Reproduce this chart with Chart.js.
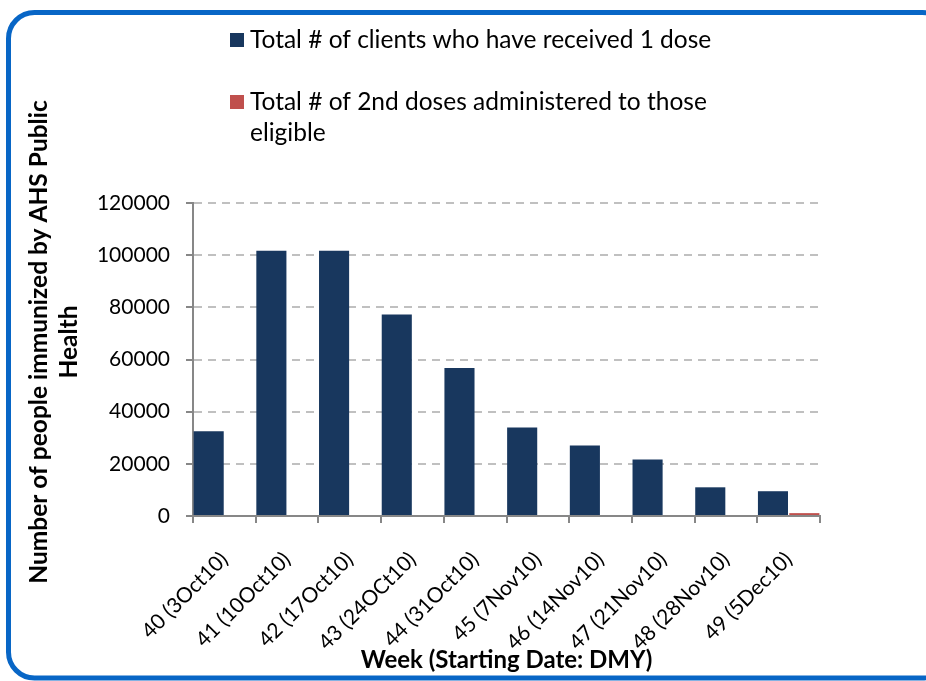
<!DOCTYPE html>
<html>
<head>
<meta charset="utf-8">
<script src="https://cdn.jsdelivr.net/npm/chart.js@4"></script>
<style>
  html, body { margin: 0; padding: 0; background: #fff; }
  #wrap { width: 926px; height: 681px; position: relative; }
</style>
</head>
<body>
<div id="wrap"><canvas id="immChart" width="926" height="681"></canvas></div>
<script>
// data
const weeks = ['40 (3Oct10)', '41 (10Oct10)', '42 (17Oct10)', '43 (24OCt10)', '44 (31Oct10)',
  '45 (7Nov10)', '46 (14Nov10)', '47 (21Nov10)', '48 (28Nov10)', '49 (5Dec10)'];
const firstDose = [32500, 101700, 101700, 77300, 56700, 33900, 27000, 21700, 11000, 9500];
const secondDose = [null, null, null, null, null, null, null, null, null, 1100];
const yTicks = [0, 20000, 40000, 60000, 80000, 100000, 120000];
const seriesNames = ['Total # of clients who have received 1 dose',
  ['Total # of 2nd doses administered to those', 'eligible']];
const yTitle = ['Number of people immunized by AHS Public', 'Health'];
const xTitle = 'Week (Starting Date: DMY)';

const FONT = 'Lato, "Open Sans", sans-serif';

// blue rounded frame, legend and y title
const decor = {
  id: 'decor',
  beforeDraw(chart) {
    const c = chart.ctx;
    c.save();
    c.strokeStyle = '#0866c6';
    c.lineWidth = 5;
    c.beginPath();
    c.roundRect(8.5, 12.5, 940, 665.5, 26);
    c.stroke();
    c.restore();
  },
  afterDraw(chart) {
    const c = chart.ctx;
    c.save();
    c.font = '24.5px ' + FONT;
    c.fillStyle = '#000';
    c.textBaseline = 'middle';
    const sw = [40, 102];
    chart.data.datasets.forEach((ds, i) => {
      c.fillStyle = ds.backgroundColor;
      c.fillRect(230, sw[i] - 7, 14, 14);
      c.fillStyle = '#000';
      const lines = [].concat(seriesNames[i]);
      lines.forEach((t, j) => c.fillText(t, 250, sw[i] + j * 31));
    });
    // y axis title
    c.font = 'bold 24.5px ' + FONT;
    c.textAlign = 'center';
    c.translate(0, 342);
    c.rotate(-Math.PI / 2);
    c.fillText(yTitle[0], 0, 39);
    c.fillText(yTitle[1], 0, 69);
    c.restore();
  }
};

const ctx = document.getElementById('immChart').getContext('2d');
new Chart(ctx, {
  type: 'bar',
  data: {
    labels: weeks,
    datasets: [{
      label: 'Total # of clients who have received 1 dose',
      data: firstDose,
      backgroundColor: '#18375e',
      categoryPercentage: 1,
      barPercentage: 0.96
    }, {
      label: 'Total # of 2nd doses administered to those eligible',
      data: secondDose,
      backgroundColor: '#c0504d',
      categoryPercentage: 1,
      barPercentage: 0.96
    }]
  },
  options: {
    responsive: false,
    animation: false,
    layout: { padding: { left: 0, top: 203, right: 106, bottom: 0 } },
    plugins: { legend: { display: false }, tooltip: { enabled: false } },
    scales: {
      x: {
        afterFit(s) { s.height = 165; },
        grid: { drawOnChartArea: false, offset: true, color: '#878787', tickLength: 7, lineWidth: 2 },
        border: { color: '#878787', width: 2 },
        ticks: { color: '#000', font: { family: FONT, size: 21 }, minRotation: 45, maxRotation: 45, padding: 24, autoSkip: false },
        title: { display: true, text: xTitle, color: '#000', font: { family: FONT, size: 24, weight: 'bold' }, padding: { top: 0, bottom: 6 } }
      },
      y: {
        min: 0, max: 120000,
        afterFit(s) { s.width = 193; },
        afterBuildTicks(s) { s.ticks = yTicks.map(v => ({ value: v })); },
        grid: { color: '#c0c0c0', lineWidth: 2, tickColor: '#878787', tickLength: 7, tickBorderDash: [] },
        border: { color: '#878787', width: 2, dash: [8, 6] },
        ticks: { color: '#000', font: { family: FONT, size: 21 }, padding: 16, callback: v => String(v) }
      }
    }
  },
  plugins: [decor]
});
</script>
</body>
</html>
